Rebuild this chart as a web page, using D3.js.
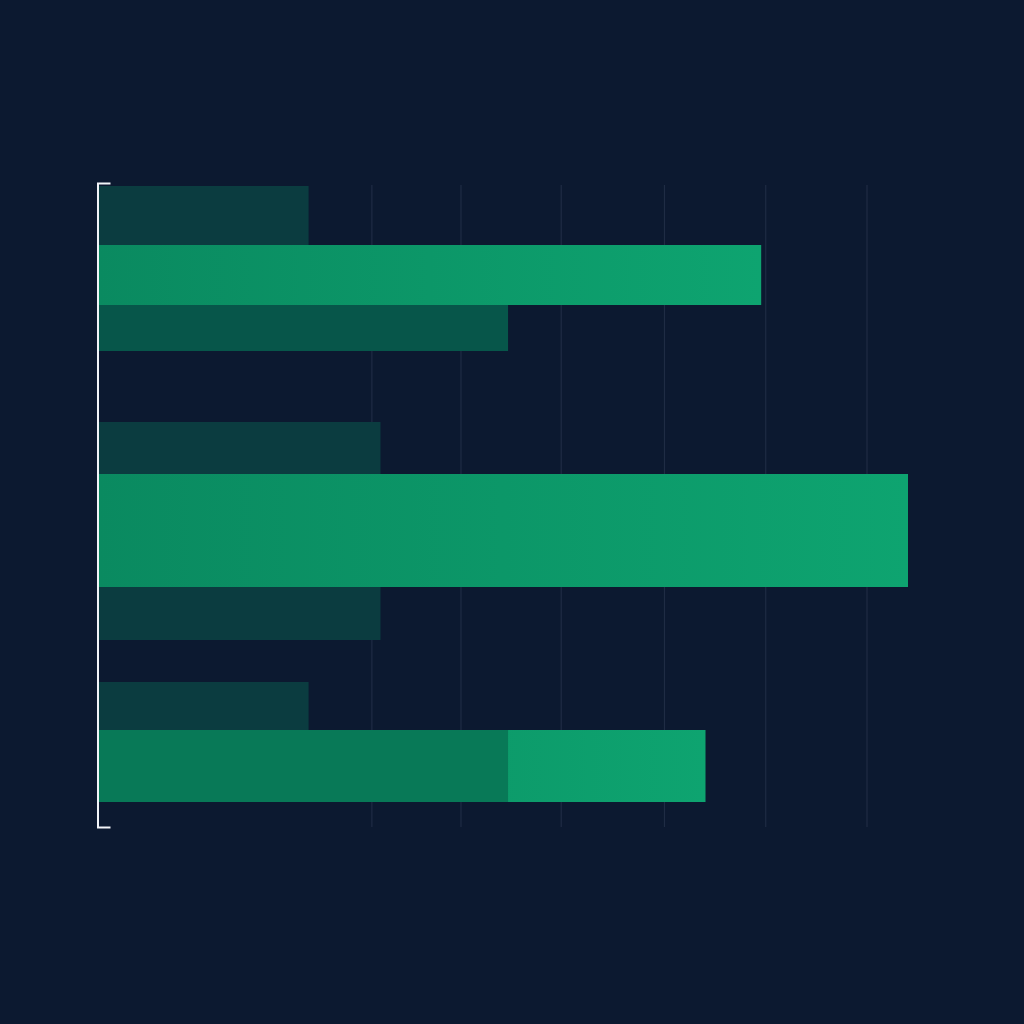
<!DOCTYPE html>
<html>
<head>
<meta charset="utf-8">
<script src="https://cdn.jsdelivr.net/npm/d3@7"></script>
<style>
  html, body { margin: 0; padding: 0; background: #0c1930; }
  svg { display: block; }
</style>
</head>
<body>
<div id="chart"></div>
<script>
// rows, top to bottom
const rowLabels = ["A1", "A2", "A3", "B1", "B2", "B3", "C1", "C2"]
const rowSeries = ["low", "high", "mid", "low", "high", "low", "low", "high"]
const rowValues = [20.8, 65.5, 40.5, 27.9, 80, 27.9, 20.8, 60.0]
// darker overlay drawn over the start of a bar
const overlayValues = [null, null, null, null, null, null, null, 40.5]
const gridValues = [27, 35.8, 45.7, 55.9, 65.9, 75.9]

const config = {
  width: 1024,
  height: 1024,
  xRange: [98, 908],
  axisTop: 183,
  axisBottom: 827,
  gridTop: 185,
  // band thicknesses: lead, rows with gaps between groups, tail
  lead: 3,
  rowSizes: [59, 60, 46, 52, 113, 53, 48, 72],
  gapsAfter: { 2: 71, 5: 42 },
  colors: {
    bg: "#0c1930",
    low: "#0b3c40",
    mid: "#07564a",
    overlay: "#087957",
    grid: "#1f2c44",
    axis: "#f2f4f8"
  }
}

const svg = d3.select("#chart").append("svg")
    .attr("width", config.width)
    .attr("height", config.height)

svg.append("rect")
    .attr("width", config.width)
    .attr("height", config.height)
    .attr("fill", config.colors.bg)

const defs = svg.append("defs")
const grad = defs.append("linearGradient")
    .attr("id", "high-grad")
    .attr("x1", "0").attr("x2", "1").attr("y1", "0").attr("y2", "0")
grad.append("stop").attr("offset", "0").attr("stop-color", "#0a8a60")
grad.append("stop").attr("offset", "1").attr("stop-color", "#0ea470")

// y layout: cumulative band offsets
let cursor = config.axisTop + config.lead
const rowBands = rowLabels.map((d, i) => {
  const band = { y0: cursor, y1: cursor + config.rowSizes[i] }
  cursor = band.y1 + (config.gapsAfter[i] || 0)
  return band
})

const xScale = d3.scaleLinear()
    .domain([0, 80])
    .range(config.xRange)

const yScale = d3.scaleLinear()
    .domain([0, 1])
    .range([config.axisTop, config.axisBottom])

// vertical gridlines
const grid = svg.append("g")
    .attr("class", "grid")
    .attr("transform", `translate(0, ${config.axisBottom})`)
    .call(d3.axisBottom(xScale)
      .tickValues(gridValues)
      .tickSize(-(config.axisBottom - config.gridTop))
      .tickFormat(""))
grid.select(".domain").remove()
grid.selectAll(".tick line")
    .attr("stroke", config.colors.grid)
    .attr("stroke-width", 1.2)

const rows = rowLabels.map((d, i) => ({
  label: d,
  series: rowSeries[i],
  value: rowValues[i],
  overlay: overlayValues[i],
  band: rowBands[i]
}))

const fillFor = (d) => d.series === "high" ? "url(#high-grad)" : config.colors[d.series]

svg.append("g")
    .attr("class", "bars")
  .selectAll("rect")
  .data(rows)
  .enter()
  .append("rect")
    .attr("x", xScale(0))
    .attr("y", d => d.band.y0)
    .attr("width", d => xScale(d.value) - xScale(0))
    .attr("height", d => d.band.y1 - d.band.y0)
    .attr("fill", fillFor)

svg.append("g")
    .attr("class", "overlays")
  .selectAll("rect")
  .data(rows.filter(d => d.overlay != null))
  .enter()
  .append("rect")
    .attr("x", xScale(0))
    .attr("y", d => d.band.y0)
    .attr("width", d => xScale(d.overlay) - xScale(0))
    .attr("height", d => d.band.y1 - d.band.y0)
    .attr("fill", config.colors.overlay)

// bracket-shaped left axis
const axis = svg.append("g")
    .attr("transform", `translate(${config.xRange[0] - 0.5}, 0)`)
    .call(d3.axisLeft(yScale).tickValues([]).tickSizeOuter(-13))
axis.select(".domain")
    .attr("stroke", config.colors.axis)
    .attr("stroke-width", 2)
    .attr("fill", "none")
</script>
</body>
</html>
